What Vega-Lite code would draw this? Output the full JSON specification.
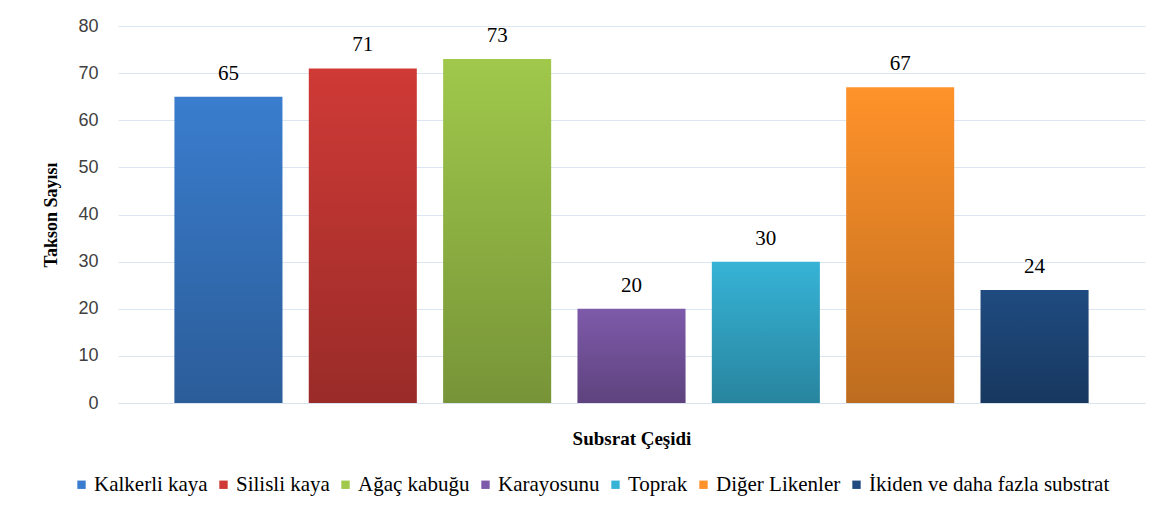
{
  "$schema": "https://vega.github.io/schema/vega-lite/v6.json",
  "width": 1027,
  "height": 377,
  "autosize": "none",
  "padding": {"left": 118, "top": 26, "right": 26, "bottom": 112},
  "background": "white",
  "data": {
    "values": [
      {"Subsrat": "Kalkerli kaya", "Takson": 65},
      {"Subsrat": "Silisli kaya", "Takson": 71},
      {"Subsrat": "Ağaç kabuğu", "Takson": 73},
      {"Subsrat": "Karayosunu", "Takson": 20},
      {"Subsrat": "Toprak", "Takson": 30},
      {"Subsrat": "Diğer Likenler", "Takson": 67},
      {"Subsrat": "İkiden ve daha fazla substrat", "Takson": 24}
    ]
  },
  "encoding": {
    "x": {
      "field": "Subsrat",
      "type": "nominal",
      "sort": null,
      "scale": {"paddingInner": 0.196, "paddingOuter": 0.42},
      "axis": {
        "labels": false,
        "ticks": false,
        "domain": true,
        "domainColor": "#d9e2ef",
        "title": "Subsrat  Çeşidi",
        "titleFont": "Liberation Serif",
        "titleFontSize": 19,
        "titleFontWeight": "bold",
        "titleColor": "#000000",
        "titlePadding": 26
      }
    },
    "y": {
      "field": "Takson",
      "type": "quantitative",
      "scale": {"domain": [0, 80]},
      "axis": {
        "values": [0, 10, 20, 30, 40, 50, 60, 70, 80],
        "grid": true,
        "gridColor": "#dce6f2",
        "gridWidth": 1,
        "domain": false,
        "ticks": false,
        "labelFont": "Liberation Sans",
        "labelFontSize": 18,
        "labelColor": "#404040",
        "labelPadding": 20,
        "title": "Takson Sayısı",
        "titleFont": "Liberation Serif",
        "titleFontSize": 18,
        "titleFontWeight": "bold",
        "titleColor": "#000000",
        "titlePadding": 17
      }
    }
  },
  "layer": [
    {
      "mark": {"type": "bar"},
      "encoding": {
        "color": {
          "field": "Subsrat",
          "type": "nominal",
          "sort": null,
          "scale": {
            "domain": ["Kalkerli kaya", "Silisli kaya", "Ağaç kabuğu", "Karayosunu", "Toprak", "Diğer Likenler", "İkiden ve daha fazla substrat"],
            "range": ["#3a7dce", "#cf3a36", "#a0c84b", "#7e5aaa", "#36b3d6", "#ff922a", "#1f4b80"]
          },
          "legend": {
            "orient": "none",
            "legendX": -47,
            "legendY": 448,
            "direction": "horizontal",
            "title": null,
            "labelFont": "Liberation Serif",
            "labelFontSize": 21
          }
        }
      }
    },
    {
      "mark": {
        "type": "bar",
        "color": {
          "gradient": "linear",
          "x1": 0, "y1": 0, "x2": 0, "y2": 1,
          "stops": [
            {"offset": 0, "color": "rgba(0,0,0,0)"},
            {"offset": 1, "color": "rgba(0,0,0,0.26)"}
          ]
        }
      },
      "encoding": {}
    },
    {
      "mark": {
        "type": "text",
        "baseline": "bottom",
        "dy": -13,
        "font": "Liberation Serif",
        "fontSize": 21,
        "color": "#000000"
      },
      "encoding": {"text": {"field": "Takson", "type": "quantitative"}}
    }
  ],
  "config": {
    "font": "Liberation Serif",
    "view": {"stroke": null},
    "legend": {
      "symbolType": "square",
      "symbolSize": 70,
      "symbolStrokeWidth": 0,
      "labelFont": "Liberation Serif",
      "labelFontSize": 21,
      "labelColor": "#000000",
      "labelLimit": 400,
      "labelOffset": 2,
      "columnPadding": 5
    }
  }
}
